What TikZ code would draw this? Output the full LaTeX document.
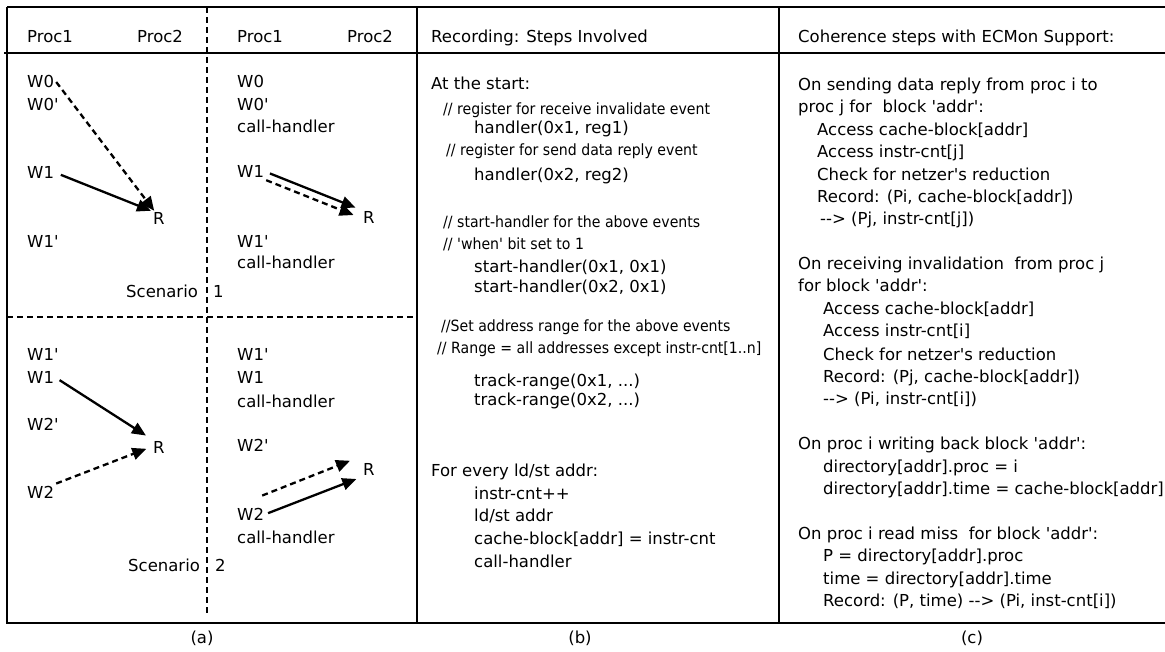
\documentclass[tikz,border=0pt]{standalone}
\usepackage{fontspec}
\newfontfamily\dejavu{DejaVu Sans}
\newfontfamily\dejavunarrow[FakeStretch=0.91]{DejaVu Sans}
\usetikzlibrary{arrows.meta,calc}

\tikzset{
  txt/.style={anchor=base west,inner sep=2pt,font=\dejavu\fontsize{16.5}{20}\selectfont},
  cmt/.style={anchor=base west,inner sep=2pt,font=\dejavunarrow\fontsize{15.5}{19}\selectfont},
  captxt/.style={inner sep=2pt,font=\dejavu\fontsize{16.5}{20}\selectfont},
  frame/.style={line width=2pt},
  sep/.style={line width=2.6pt,dash pattern=on 6pt off 4pt},
  wr/.style={line width=2.3pt,-{Triangle[length=14pt,width=12pt]}},
  dwr/.style={wr,dash pattern=on 6pt off 4pt},
}

\begin{document}
\begin{tikzpicture}[x=1pt,y=-1pt]
\useasboundingbox (0,0) rectangle (1165,652);

%% frame
\draw [frame] (7,7) -- (1165,7);
\draw [frame] (4,53) -- (1165,53);
\draw [frame] (7,7) -- (7,623) -- (1165,623);
\draw [frame] (417,7) -- (417,623);
\draw [frame] (779,7) -- (779,623);
\draw [sep] (207,7) -- (207,613);   % proc split
\draw [sep] (7,317) -- (417,317);   % scenario split

%% (a) scenarios
\node [txt] (p1a) at (25,43) {Proc1};
\node [txt] (p2a) at (135,43) {Proc2};
\node [txt] (p1b) at (235,43) {Proc1};
\node [txt] (p2b) at (345,43) {Proc2};

% scenario 1
\node [txt] (w0a) at (25,88) {W0};
\node [txt] (w0pa) at (25,111) {W0'};
\node [txt] (w1a) at (25,179) {W1};
\node [txt] (r1a) at (151,225) {R};
\node [txt] (w1pa) at (25,248) {W1'};
\node [txt] (scen1) at (124,298) {Scenario};
\node [txt] (one) at (211,298) {1};

\node [txt] (w0b) at (235,88) {W0};
\node [txt] (w0pb) at (235,111) {W0'};
\node [txt] (chb1) at (235,133) {call-handler};
\node [txt] (w1b) at (235,178) {W1};
\node [txt] (r1b) at (361,224) {R};
\node [txt] (w1pb) at (235,248) {W1'};
\node [txt] (chb2) at (235,269) {call-handler};

\draw [dwr] (w0a.east) -- (r1a.120);
\draw [wr,shorten <=5pt] (w1a.east) -- (r1a.north west);
\draw [wr,shorten <=4pt,shorten >=6pt] (w1b.east) -- (r1b.north west);
\draw [dwr,shorten >=8pt] (w1b.south east) -- (r1b.west);

% scenario 2
\node [txt] (w1pc) at (25,361) {W1'};
\node [txt] (w1c) at (25,384) {W1};
\node [txt] (w2pc) at (25,430) {W2'};
\node [txt] (r2a) at (151,453) {R};
\node [txt] (w2c) at (25,498) {W2};
\node [txt] (scen2) at (126,571) {Scenario};
\node [txt] (two) at (213,571) {2};

\node [txt] (w1pd) at (235,361) {W1'};
\node [txt] (w1d) at (235,384) {W1};
\node [txt] (chd1) at (235,407) {call-handler};
\node [txt] (w2pd) at (235,451) {W2'};
\node [txt] (r2b) at (361,475) {R};
\node [txt] (w2d) at (235,520) {W2};
\node [txt] (chd2) at (235,543) {call-handler};

\draw [wr,shorten <=4pt,shorten >=6pt] (w1c.east) -- (r2a.north west);
\draw [dwr,shorten >=5pt] (w2c.north east) -- (r2a.west);
\draw [dwr] ($(w2d.north east)+(-4,-10)$) -- ($(r2b.north west)+(-11,0)$);
\draw [wr,shorten <=2pt,shorten >=5pt] (w2d.east) -- (r2b.south west);

%% (b) recording
\node [txt] (rechead) at (429,43) {Recording: Steps Involved};
\node [txt] (start) at (429,90) {At the start:};
\node [cmt] (m1) at (441,115) {// register for receive invalidate event};
\node [txt] (h1) at (472,134) {handler(0x1, reg1)};
\node [cmt] (m2) at (444,156) {// register for send data reply event};
\node [txt] (h2) at (472,181) {handler(0x2, reg2)};
\node [cmt] (m3) at (441,228) {// start-handler for the above events};
\node [cmt] (m4) at (441,250) {// 'when' bit set to 1};
\node [txt] (sh1) at (472,273) {start-handler(0x1, 0x1)};
\node [txt] (sh2) at (472,293) {start-handler(0x2, 0x1)};
\node [cmt] (m5) at (439,332) {//Set address range for the above events};
\node [cmt] (m6) at (435,353) {// Range = all addresses except instr-cnt[1..n]};
\node [txt] (tr1) at (472,386) {track-range(0x1, ...)};
\node [txt] (tr2) at (472,406) {track-range(0x2, ...)};
\node [txt] (every) at (429,476) {For every ld/st addr:};
\node [txt] (e1) at (472,499) {instr-cnt++};
\node [txt] (e2) at (472,521) {ld/st addr};
\node [txt] (e3) at (472,544) {cache-block[addr] = instr-cnt};
\node [txt] (e4) at (472,567) {call-handler};

%% (c) coherence
\node [txt] (cohhead) at (796,43) {Coherence steps with ECMon Support:};
\foreach \xx/\yy/\txt [count=\i] in {
  796/91/{On sending data reply from proc i to},
  796/113/{proc j for~ block 'addr':},
  815/136/{Access cache-block[addr]},
  815/158/{Access instr-cnt[j]},
  815/181/{Check for netzer's reduction},
  815/203/{Record: (Pi, cache-block[addr])},
  818/225/{-{}-> (Pj, instr-cnt[j])},
  796/270/{On receiving invalidation~ from proc j},
  796/292/{for block 'addr':},
  821/315/{Access cache-block[addr]},
  821/337/{Access instr-cnt[i]},
  821/360/{Check for netzer's reduction},
  821/382/{Record: (Pj, cache-block[addr])},
  821/404/{-{}-> (Pi, instr-cnt[i])},
  796/449/{On proc i writing back block 'addr':},
  821/472/{directory[addr].proc = i},
  821/494/{directory[addr].time = cache-block[addr]},
  796/539/{On proc i read miss~ for block 'addr':},
  821/561/{P = directory[addr].proc},
  821/584/{time = directory[addr].time},
  821/606/{Record: (P, time) -{}-> (Pi, inst-cnt[i])}}
  \node [txt] (c\i) at (\xx,\yy) {\txt};

%% captions
\node [captxt] (capa) at (202,638) {(a)};
\node [captxt] (capb) at (580,638) {(b)};
\node [captxt] (capc) at (972,638) {(c)};

\end{tikzpicture}
\end{document}
